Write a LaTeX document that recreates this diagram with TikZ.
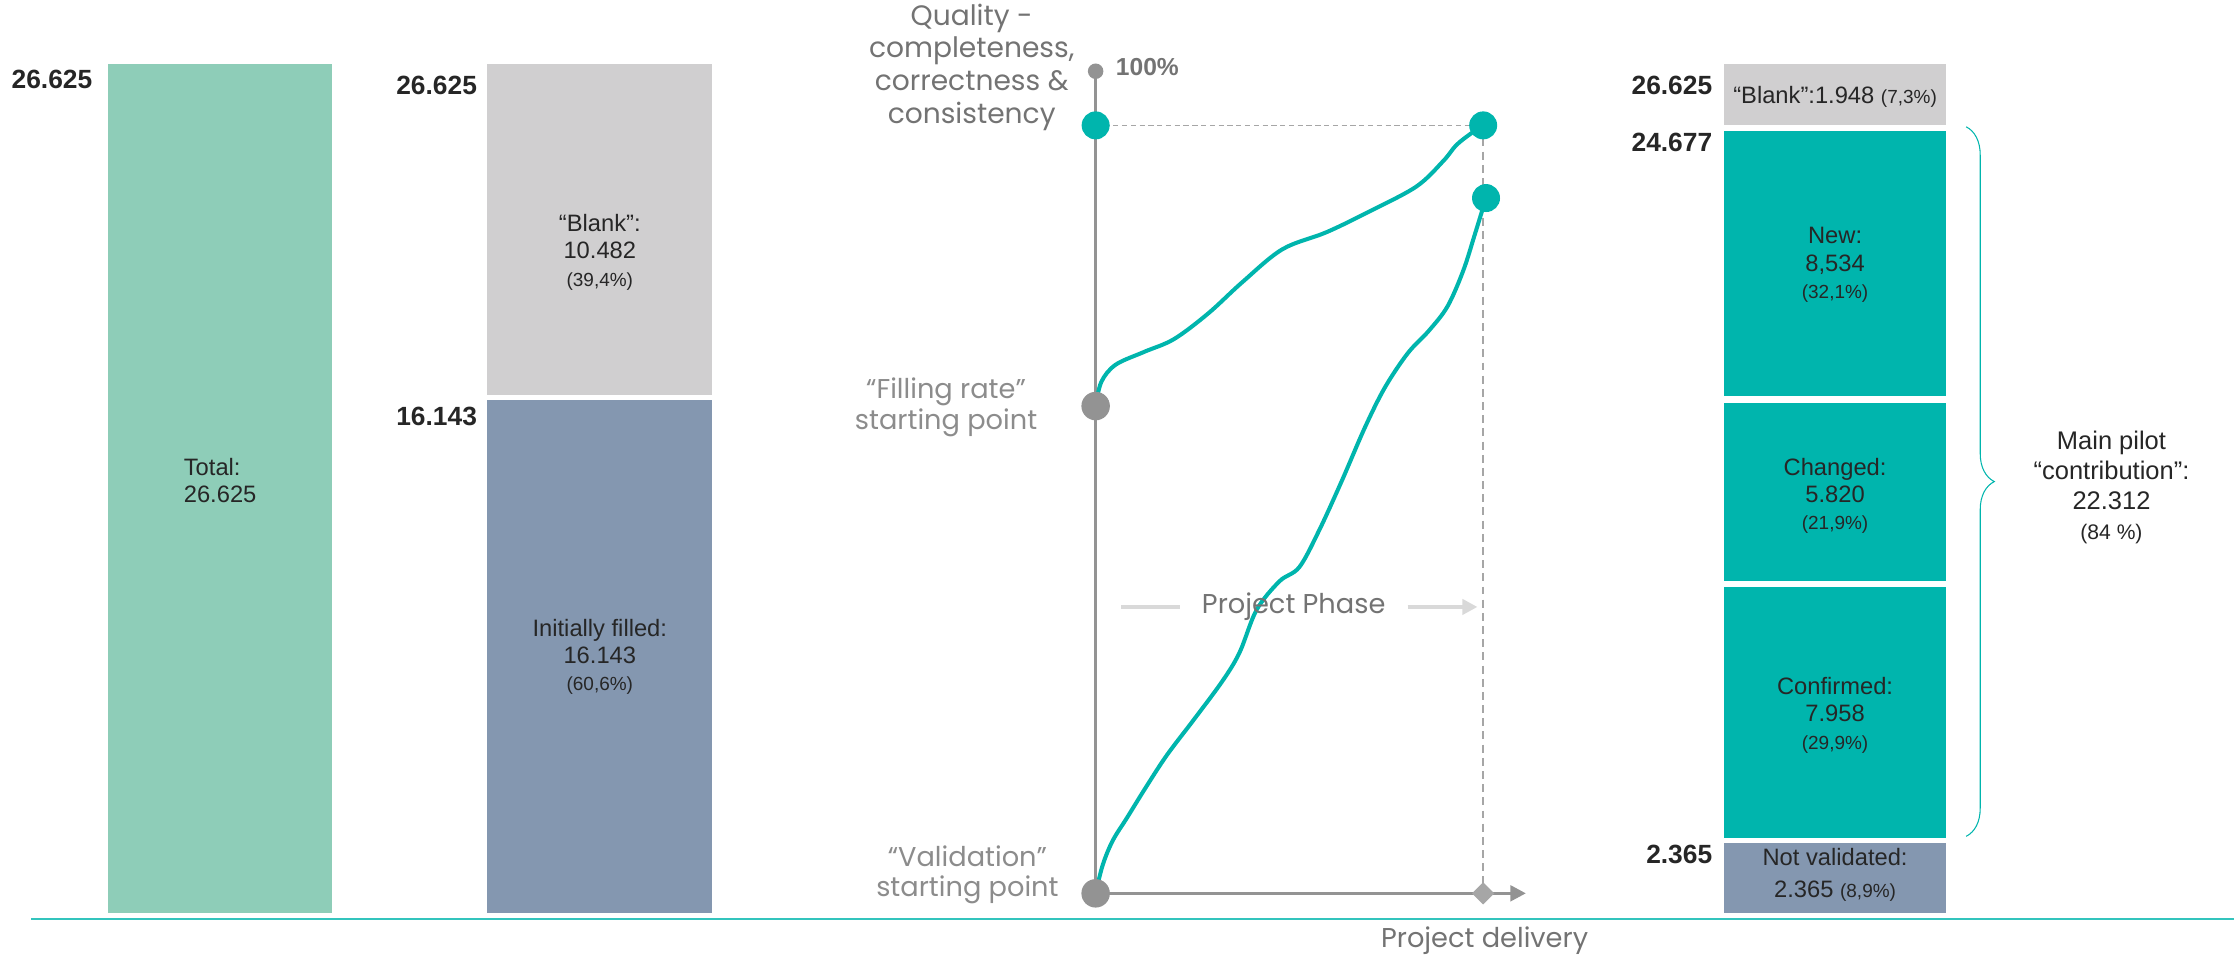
\documentclass[tikz,border=0pt]{standalone}
\usepackage{fontspec}
\setmainfont{Liberation Sans}
\newfontfamily\plain{Liberation Sans}
\newfontfamily\geo{Poppins}
\usetikzlibrary{arrows.meta,decorations.pathreplacing,shapes.geometric}
\definecolor{mint}{HTML}{8ECDB8}
\definecolor{blankgray}{HTML}{D0CFD0}
\definecolor{slate}{HTML}{8497B0}
\definecolor{pilotteal}{HTML}{00B5AD}
\definecolor{axisgray}{HTML}{939393}
\definecolor{ink}{HTML}{262626}
\definecolor{notegray}{HTML}{8C8C8C}
\definecolor{titlegray}{HTML}{737373}
\definecolor{phasegray}{HTML}{D9D9D9}
\definecolor{guidegray}{HTML}{A6A6A6}
\newcommand{\pct}[1]{{\fontsize{10.8}{14}\selectfont #1}}
\begin{document}
\begin{tikzpicture}[x=0.0285cm,y=-0.0285cm,
  val/.style={font=\fontsize{13.5}{15.5}\selectfont,text=ink,align=center,inner sep=0pt},
  tick/.style={font=\bfseries\fontsize{15}{15}\selectfont,text=ink,anchor=east,inner sep=0pt},
  note/.style={font=\geo\fontsize{15.5}{17.5}\selectfont,text=notegray,align=center,inner sep=0pt},
  gdot/.style={circle,fill=axisgray,inner sep=0pt,minimum size=0.57cm},
  tdot/.style={circle,fill=pilotteal,inner sep=0pt,minimum size=0.56cm},
  axis/.style={axisgray,line width=1.9pt},
  guide/.style={guidegray,line width=0.8pt,dash pattern=on 3pt off 2pt},
  curve/.style={pilotteal,line width=2.3pt,line cap=round}]
\useasboundingbox (0,0) rectangle (1568,672);
% stacked bars
\fill[mint] (76,45) rectangle (233,641);
\fill[blankgray] (342,45) rectangle (500,277);
\fill[slate] (342,281) rectangle (500,641);
\fill[blankgray] (1210,45) rectangle (1366,88);
\fill[pilotteal] (1210,92) rectangle (1366,278);
\fill[pilotteal] (1210,283) rectangle (1366,408);
\fill[pilotteal] (1210,412) rectangle (1366,588);
\fill[slate] (1210,592) rectangle (1366,641);
\node[val,align=left] (total) at (154.5,337) {Total:\\26.625};
\node[val] (blank) at (421,177) {“Blank”:\\10.482\\\pct{(39,4\%)}};
\node[val] (filled) at (421,461) {Initially filled:\\16.143\\\pct{(60,6\%)}};
\node[val] (blank2) at (1288,68) {“Blank”:1.948 \pct{(7,3\%)}};
\node[val] (new) at (1288,186) {New:\\8,534\\\pct{(32,1\%)}};
\node[val] (changed) at (1288,348) {Changed:\\5.820\\\pct{(21,9\%)}};
\node[val] (confirmed) at (1288,502) {Confirmed:\\7.958\\\pct{(29,9\%)}};
\node[val,font=\fontsize{13.5}{18.5}\selectfont] (notval) at (1288,614) {Not validated:\\2.365 \pct{(8,9\%)}};
\node[tick] at (65,56) {26.625};
\node[tick] at (335,60) {26.625};
\node[tick] at (335,292) {16.143};
\node[tick] at (1202,60) {26.625};
\node[tick] at (1202,100) {24.677};
\node[tick] at (1202,600) {2.365};
\coordinate (br top) at (1380,89);
\coordinate (br bot) at (1380,587);
\draw[pilotteal,line width=0.6pt,decorate,decoration={brace,amplitude=16pt,aspect=0.5}] (br top) -- (br bot);
\node[val,font=\fontsize{14.5}{17}\selectfont] (pilot) at (1482,342) {Main pilot\\“contribution”:\\22.312\\{\fontsize{12}{16}\selectfont (84 \%)}};
% quality chart
\coordinate (ax top) at (769,50);
\coordinate (q start) at (769,88);
\coordinate (f start) at (769,285);
\coordinate (v start) at (769,627);
\coordinate (q end) at (1041,88);
\coordinate (f end) at (1043,139);
\coordinate (deliv) at (1041,627);
\coordinate (x end) at (1071,627);
\draw[guide] (q start) -- (q end);
\draw[guide,line width=1.3pt,dash pattern=on 4.5pt off 3pt] (q end) -- (deliv);
\draw[axis] (ax top) -- (v start);
\draw[axis,-{Triangle[length=0.31cm,width=0.31cm]}] (v start) -- (x end);
\draw[curve] plot[smooth,tension=0.55] coordinates {(f start) (773,268) (783,256) (803,247) (824,238) (848,220) (872,198) (900,175) (931,163) (960,149) (994,131) (1013,113) (1022,102) (1032,94) (q end)};
\draw[curve] plot[smooth,tension=0.55] coordinates {(v start) (774,607) (781,590) (791,574) (804,553) (819,530) (838,505) (858,478) (870,458) (882,428) (898,408) (912,398) (926,372) (942,337) (958,300) (972,272) (988,248) (1003,232) (1016,215) (1027,190) (1035,165) (f end)};
\node[circle,fill=axisgray,inner sep=0pt,minimum size=0.31cm] (top dot) at (ax top) {};
\node[gdot] (fill dot) at (f start) {};
\node[gdot] (val dot) at (v start) {};
\node[tdot] (q dot) at (q start) {};
\node[tdot] (q end dot) at (q end) {};
\node[tdot] (f end dot) at (f end) {};
\node[diamond,fill=guidegray,inner sep=0pt,minimum size=0.45cm] (deliv dot) at (deliv) {};
\node[anchor=west,font=\plain\bfseries\fontsize{14}{14}\selectfont,text=titlegray,inner sep=0pt] (full) at (783,47) {100\%};
\node[note,text=titlegray,font=\geo\fontsize{16}{18.6}\selectfont] (quality) at (682,47) {Quality -\\completeness,\\correctness \&\\consistency};
\node[note] (fill lbl) at (664,286) {“Filling rate”\\starting point};
\node[note] (val lbl) at (679,614) {“Validation”\\starting point};
\node[note,text=titlegray,inner xsep=0.44cm] (phase) at (908,426) {Project Phase};
\coordinate (ph left) at (787,426);
\coordinate (ph right) at (1037,426);
\draw[phasegray,line width=2.3pt] (ph left) -- (phase);
\draw[phasegray,line width=2.3pt,-{Triangle[length=0.3cm,width=0.3cm]}] (phase) -- (ph right);
% delivery line
\coordinate (base left) at (22,645);
\coordinate (base right) at (1568,645);
\draw[pilotteal!80,line width=1pt] (base left) -- (base right);
\node[note,text=titlegray] (delivery) at (1042,660) {Project delivery};
\end{tikzpicture}
\end{document}
